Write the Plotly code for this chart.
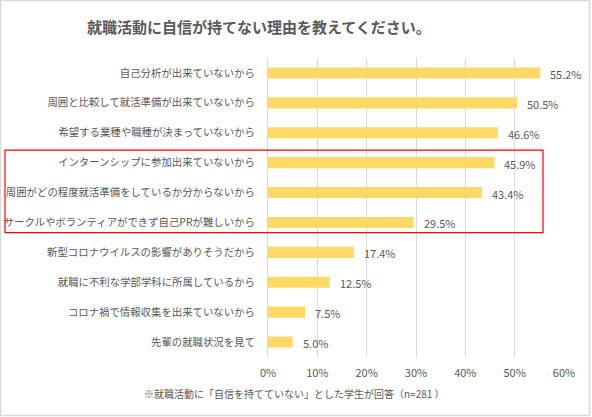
import plotly.graph_objects as go

categories = [
    "自己分析が出来ていないから",
    "周囲と比較して就活準備が出来ていないから",
    "希望する業種や職種が決まっていないから",
    "インターンシップに参加出来ていないから",
    "周囲がどの程度就活準備をしているか分からないから",
    "サークルやボランティアができず自己PRが難しいから",
    "新型コロナウイルスの影響がありそうだから",
    "就職に不利な学部学科に所属しているから",
    "コロナ禍で情報収集を出来ていないから",
    "先輩の就職状況を見て",
]
values = [55.2, 50.5, 46.6, 45.9, 43.4, 29.5, 17.4, 12.5, 7.5, 5.0]
tick_vals = [0, 10, 20, 30, 40, 50, 60]
tick_text = ["0%", "10%", "20%", "30%", "40%", "50%", "60%"]
highlighted = [3, 4, 5]  # indices inside the red box

W, H = 592, 417
ML, MR, MT, MB = 268, 28, 58, 60
PW, PH = W - ML - MR, H - MT - MB

def px_x(px):
    return (px - ML) / PW

def px_y(py):
    return 1 - (py - MT) / PH

FONT = "Noto Sans CJK JP"
GRAY = "#595959"

fig = go.Figure()
fig.add_trace(go.Bar(
    y=categories, x=values, orientation="h",
    marker=dict(color="#FFD966", line=dict(width=0)),
    hoverinfo="skip",
))

for c, v in zip(categories, values):
    fig.add_annotation(
        x=v, y=c, xref="x", yref="y", text=f"{v:.1f}%",
        showarrow=False, xanchor="left", xshift=8, yshift=-1,
        font=dict(family=FONT, size=11, color=GRAY),
    )

fig.update_layout(
    width=W, height=H,
    margin=dict(l=ML, r=MR, t=MT, b=MB, pad=0, autoexpand=False),
    paper_bgcolor="white", plot_bgcolor="white",
    showlegend=False,
    bargap=0.63,
    font=dict(family=FONT, color=GRAY),
    xaxis=dict(
        range=[0, 60], tickvals=tick_vals, ticktext=tick_text,
        showgrid=True, gridcolor="#D9D9D9", gridwidth=1,
        zeroline=False, showline=False, ticks="", automargin=False,
        ticklabelstandoff=8,
        tickfont=dict(family=FONT, size=11, color=GRAY),
        fixedrange=True,
    ),
    yaxis=dict(
        autorange="reversed", showgrid=False, zeroline=False,
        showline=True, linecolor="#D9D9D9", linewidth=1,
        ticks="", ticklabelstandoff=10, automargin=False,
        tickfont=dict(family=FONT, size=10.4, color=GRAY),
        fixedrange=True,
    ),
)

# title
fig.add_annotation(
    x=px_x(259), y=px_y(26), xref="paper", yref="paper",
    text="<b>就職活動に自信が持てない理由を教えてください。</b>",
    showarrow=False, xanchor="center", yanchor="middle",
    font=dict(family=FONT, size=15, color=GRAY),
)
# footnote
fig.add_annotation(
    x=px_x(294), y=px_y(393), xref="paper", yref="paper",
    text="※就職活動に「自信を持てていない」とした学生が回答（n=281 ）",
    showarrow=False, xanchor="center", yanchor="middle",
    font=dict(family=FONT, size=10, color=GRAY),
)

# chart border
fig.add_shape(type="rect", xref="paper", yref="paper",
              x0=px_x(0.5), x1=px_x(589.5), y0=px_y(415.5), y1=px_y(0.5),
              line=dict(color="#D9D9D9", width=1.5), layer="above")

# red highlight box
fig.add_shape(type="rect", xref="paper", yref="y",
              x0=px_x(5), x1=px_x(543),
              y0=highlighted[0] - 0.42, y1=highlighted[-1] + 0.34,
              line=dict(color="#FF0000", width=1.2), layer="above")

fig.write_html(
    "out.html",
    config={"displayModeBar": False},
    post_script="document.body.style.margin='0';document.body.style.overflow='hidden';",
)
